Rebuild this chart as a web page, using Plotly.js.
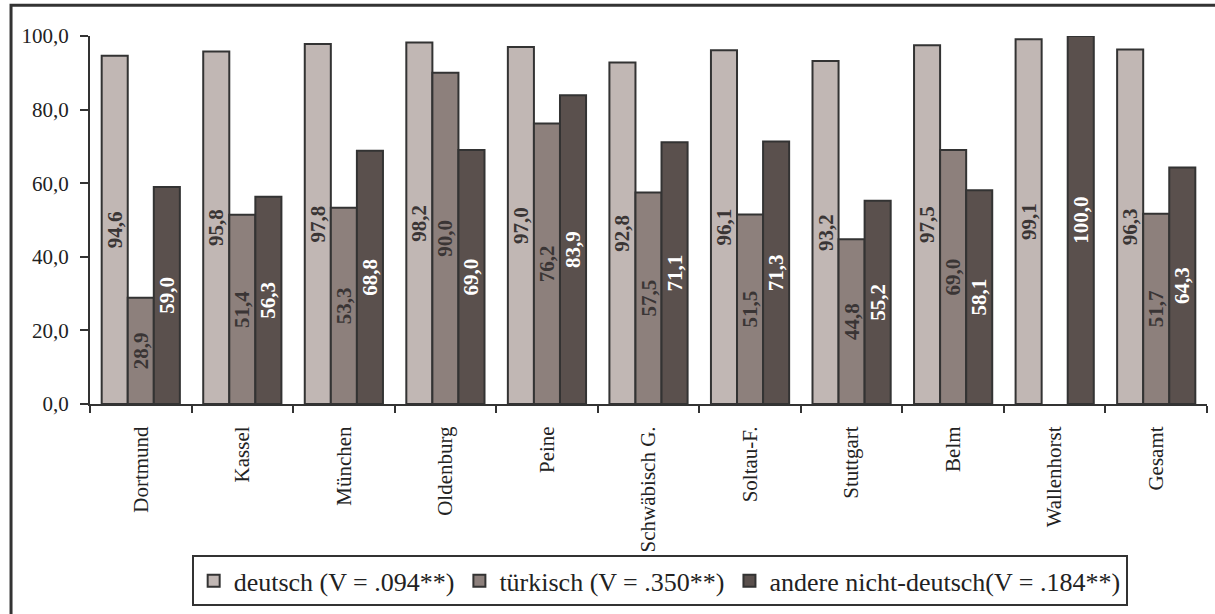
<!DOCTYPE html>
<html>
<head>
<meta charset="utf-8">
<script src="https://cdn.plot.ly/plotly-3.0.1.min.js"></script>
<style>html,body{margin:0;padding:0;background:#fff;}#chart{width:1215px;height:614px;}</style>
</head>
<body>
<div id="chart"></div>
<script>
const categories = ["Dortmund","Kassel","München","Oldenburg","Peine","Schwäbisch G.","Soltau-F.","Stuttgart","Belm","Wallenhorst","Gesamt"];
const deutsch = [94.6,95.8,97.8,98.2,97.0,92.8,96.1,93.2,97.5,99.1,96.3];
const tuerkisch = [28.9,51.4,53.3,90.0,76.2,57.5,51.5,44.8,69.0,null,51.7];
const andere = [59.0,56.3,68.8,69.0,83.9,71.1,71.3,55.2,58.1,100.0,64.3];
const seriesNames = ["deutsch (V = .094**)","türkisch (V = .350**)","andere nicht-deutsch(V = .184**)"];
const yTicks = [0,20,40,60,80,100];

const FONT = "Liberation Serif, Times New Roman, serif";
const fmt = v => v === null ? "" : v.toFixed(1).replace(".", ",");

function mk(name, vals, color, textColor){
  return {
    type: "bar", name: name, x: categories, y: vals,
    text: vals.map(fmt), textposition: "inside", insidetextanchor: "middle",
    textangle: -90, constraintext: "none",
    textfont: {family: FONT, size: 21, color: textColor, weight: "bold"},
    marker: {color: color, line: {color: "#333333", width: 2}},
    hoverinfo: "none"
  };
}

const data = [
  mk(seriesNames[0], deutsch, "#c1b7b4", "#3a3535"),
  mk(seriesNames[1], tuerkisch, "#8d807c", "#3a3535"),
  mk(seriesNames[2], andere, "#5a504d", "#ffffff")
];

const layout = {
  width: 1215, height: 614,
  margin: {l: 90, r: 8, t: 36, b: 208},
  paper_bgcolor: "#ffffff", plot_bgcolor: "#ffffff",
  separators: ",.",
  barmode: "group", bargap: 0.23, bargroupgap: 0,
  font: {family: FONT, color: "#222222"},
  showlegend: true,
  legend: {
    orientation: "h", x: 0.51, xanchor: "center", y: -0.411, yanchor: "top",
    bordercolor: "#333333", borderwidth: 2, bgcolor: "#ffffff",
    font: {family: FONT, size: 26, color: "#222222"},
    itemwidth: 30, traceorder: "normal"
  },
  xaxis: {
    type: "category", tickangle: -90, ticks: "outside", tickson: "boundaries",
    ticklen: 7, tickwidth: 2, tickcolor: "#333333", ticklabelstandoff: 12,
    showline: true, linecolor: "#333333", linewidth: 2,
    tickfont: {family: FONT, size: 21, color: "#222222"},
    showgrid: false, zeroline: false, fixedrange: true
  },
  yaxis: {
    range: [0, 100], tickvals: yTicks, tickformat: ".1f",
    ticks: "outside", ticklen: 8, tickwidth: 2, tickcolor: "#333333", ticklabelstandoff: 7,
    showline: true, linecolor: "#333333", linewidth: 2,
    tickfont: {family: FONT, size: 21, color: "#222222"},
    showgrid: false, zeroline: false, fixedrange: true
  },
  shapes: [{
    type: "rect", xref: "paper", yref: "paper",
    x0: -0.0707, x1: 1.05, y0: -0.62, y1: 1.0838,
    line: {color: "#333333", width: 3}, fillcolor: "rgba(0,0,0,0)", layer: "below"
  }]
};

Plotly.newPlot("chart", data, layout, {displayModeBar: false, staticPlot: true});
</script>
</body>
</html>
